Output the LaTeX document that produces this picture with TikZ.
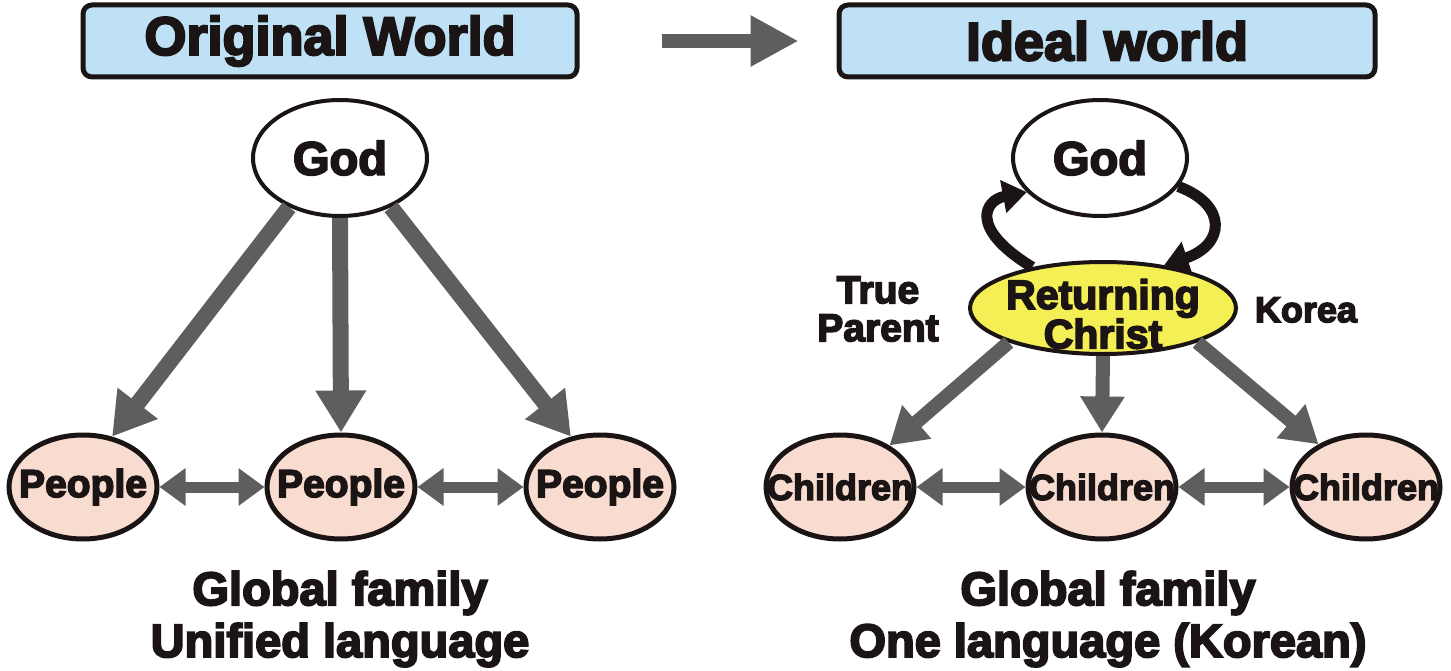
\documentclass[tikz,border=0pt]{standalone}
\usepackage{fontspec}
\setmainfont{Liberation Sans}[BoldFeatures={FakeBold=4}]
\usetikzlibrary{shapes.geometric,arrows.meta}
\definecolor{hdrblue}{HTML}{BFE1F6}
\definecolor{peach}{HTML}{F8DCD0}
\definecolor{cyellow}{HTML}{F3EF55}
\definecolor{agrey}{HTML}{5E5E5E}
\definecolor{ink}{HTML}{1A1414}
\begin{document}
\begin{tikzpicture}[x=1pt,y=-1pt,
  hdr/.style={draw=ink,line width=5pt,rounded corners=9pt,fill=hdrblue,minimum width=494pt,minimum height=72pt,inner sep=0pt,text=ink,font=\fontsize{54}{54}\selectfont\bfseries},
  godnode/.style={ellipse,draw=ink,line width=4pt,fill=white,minimum width=174pt,minimum height=116pt,inner sep=0pt,text=ink,font=\fontsize{47}{47}\selectfont\bfseries},
  pplnode/.style={ellipse,draw=ink,line width=5pt,fill=peach,minimum width=148pt,minimum height=104pt,inner sep=0pt,text=ink,font=\fontsize{39}{39}\selectfont\bfseries},
  chnode/.style={ellipse,draw=ink,line width=5pt,fill=peach,minimum width=148pt,minimum height=104pt,inner sep=0pt,text=ink,font=\fontsize{36}{36}\selectfont\bfseries},
  christnode/.style={ellipse,draw=ink,line width=4pt,fill=cyellow,minimum width=266pt,minimum height=92pt,inner sep=0pt},
  lbl/.style={inner sep=0pt,text=ink,font=\fontsize{39}{39}\selectfont\bfseries},
  btm/.style={inner sep=0pt,text=ink,font=\fontsize{47}{47}\selectfont\bfseries},
  bigarrow/.style={draw=agrey,line width=16pt,-{Triangle[length=42pt,width=48pt]}},
  medarrow/.style={draw=agrey,line width=14pt,-{Triangle[length=36pt,width=42pt]}},
  dblarrow/.style={draw=agrey,line width=11pt,{Triangle[length=26pt,width=36pt]}-{Triangle[length=26pt,width=36pt]}},
  curvearrow/.style={draw=ink,line width=11pt,-{Triangle[length=24pt,width=32pt]}}
]
\useasboundingbox (0,0) rectangle (1451,671);
% headers
\node[hdr] (h1) at (330,41) {Original World};
\node[hdr,minimum width=536pt] (h2) at (1107,41) {Ideal world};
\draw[draw=agrey,line width=14pt,-{Triangle[length=48pt,width=48pt]},shorten <=82pt,shorten >=38pt] (h1.east) -- (h2.west);

% left side
\node[godnode] (g1) at (340,158) {God};
\node[pplnode] (p1) at (83,487) {\makebox[0pt]{People}};
\node[pplnode] (p2) at (341,487) {\makebox[0pt]{People}};
\node[pplnode] (p3) at (600,487) {\makebox[0pt]{People}};
\draw[bigarrow] (g1.224) -- (p1.60);
\draw[bigarrow] (g1.south) -- (p2.north);
\draw[bigarrow] (g1.316) -- (p3.120);
\draw[dblarrow] (p1.east) -- (p2.west);
\draw[dblarrow] (p2.east) -- (p3.west);
\node[btm] (b1) at (340,593) {Global family};
\node[btm] (b2) at (340,645) {Unified language};

% right side
\node[godnode] (g2) at (1100,158) {God};
\node[christnode,label={[align=center,text=ink,yshift=-6pt,font=\fontsize{41}{36}\selectfont\bfseries]center:Returning\\Christ}] (cr) at (1103,308) {};
\node[chnode] (c1) at (840,487) {\makebox[0pt]{Children}};
\node[chnode] (c2) at (1102,487) {\makebox[0pt]{Children}};
\node[chnode] (c3) at (1366,487) {\makebox[0pt]{Children}};
\draw[medarrow] (cr.200) -- (c1.40);
\draw[medarrow] (cr.south) -- (c2.north);
\draw[medarrow] (cr.340) -- (c3.138);
\draw[dblarrow] (c1.east) -- (c2.west);
\draw[dblarrow] (c2.east) -- (c3.west);
\draw[curvearrow] (cr.150) .. controls (968,228) and (985,200) .. (g2.205);
\draw[curvearrow] (g2.340) .. controls (1228,205) and (1225,245) .. (cr.35);
\node[lbl] (t1) at (878,290) {True};
\node[lbl] (t2) at (878,328) {Parent};
\node[lbl,font=\fontsize{36}{36}\selectfont\bfseries] (k) at (1306,310) {Korea};
\node[btm] (b3) at (1108,593) {Global family};
\node[btm] (b4) at (1108,645) {One language (Korean)};
\end{tikzpicture}
\end{document}
